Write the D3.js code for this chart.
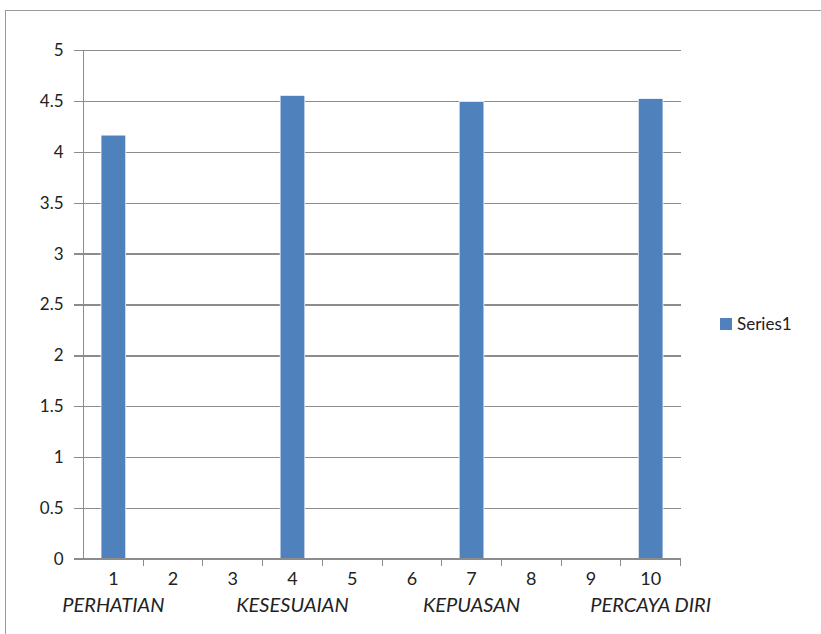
<!DOCTYPE html>
<html>
<head>
<meta charset="utf-8">
<script src="https://cdn.jsdelivr.net/npm/d3@7"></script>
<style>
  html, body { margin: 0; padding: 0; background: #fff; }
  svg { display: block; }
  text { font-family: Lato, "Open Sans", sans-serif; fill: #222; }
</style>
</head>
<body>
<svg id="chart" width="821" height="634"></svg>
<script>
// Category numbers along the x axis
const categories = ["1", "2", "3", "4", "5", "6", "7", "8", "9", "10"];
// Second-row group names under selected categories
const groupLabels = ["PERHATIAN", "", "", "KESESUAIAN", "", "", "KEPUASAN", "", "", "PERCAYA DIRI"];
// Series1 values (empty categories have no bar)
const series1 = [4.16, null, null, 4.55, null, null, 4.49, null, null, 4.52];
// Value axis ticks
const yTicks = [0, 0.5, 1, 1.5, 2, 2.5, 3, 3.5, 4, 4.5, 5];
const seriesName = "Series1";

const svg = d3.select("#chart");
const barColor = "#4f81bd";
const gridColor = "#8c8c8c";

// outer chart frame
svg.append("rect")
  .attr("x", 5.5).attr("y", 10.5)
  .attr("width", 900).attr("height", 700)
  .attr("fill", "none").attr("stroke", "#9a9a9a").attr("stroke-width", 1);

const plot = { left: 83.5, right: 680.5, top: 50, bottom: 559 };

const x = d3.scaleBand()
  .domain(categories)
  .range([plot.left, plot.right])
  .paddingInner(0).paddingOuter(0);

const y = d3.scaleLinear()
  .domain([0, 5])
  .range([plot.bottom, plot.top]);

// horizontal gridlines with tick labels
const yAxis = d3.axisLeft(y)
  .tickValues(yTicks)
  .tickSize(-(plot.right - plot.left))
  .tickSizeOuter(0)
  .tickPadding(20)
  .tickFormat(d3.format("~g"));

const gy = svg.append("g")
  .attr("transform", `translate(${plot.left},0)`)
  .call(yAxis);
gy.select(".domain").remove();
gy.selectAll(".tick line")
  .attr("x1", -10)
  .attr("stroke", gridColor).attr("stroke-width", 1.3)
  .attr("shape-rendering", "crispEdges");
gy.selectAll(".tick text")
  .attr("font-size", 17)
  .attr("fill", "#222");

// vertical value axis line
svg.append("line")
  .attr("x1", plot.left).attr("x2", plot.left)
  .attr("y1", plot.top).attr("y2", plot.bottom)
  .attr("stroke", gridColor).attr("stroke-width", 1)
  .attr("shape-rendering", "crispEdges");

// bars: 40% of each category slot
const barW = x.bandwidth() * 0.4;
const data = categories.map((c, i) => ({ c, v: series1[i] })).filter(d => d.v != null);
svg.append("g")
  .selectAll("rect")
  .data(data)
  .join("rect")
  .attr("x", d => x(d.c) + (x.bandwidth() - barW) / 2)
  .attr("y", d => y(d.v))
  .attr("width", barW)
  .attr("height", d => y(0) - y(d.v))
  .attr("fill", barColor)
  .attr("stroke", "#fff").attr("stroke-width", 1.5)
  .attr("paint-order", "stroke");

// category axis line
svg.append("line")
  .attr("x1", plot.left - 10).attr("x2", plot.right)
  .attr("y1", y(0)).attr("y2", y(0))
  .attr("stroke", gridColor).attr("stroke-width", 1.3)
  .attr("shape-rendering", "crispEdges");

const xAxis = d3.axisBottom(x).tickSize(0).tickPadding(13);
const gx = svg.append("g")
  .attr("transform", `translate(0,${y(0)})`)
  .call(xAxis);
gx.select(".domain").remove();
gx.selectAll(".tick text").attr("font-size", 18).attr("fill", "#222");

// tick marks at slot boundaries
const bounds = categories.map(c => x(c)).concat([x.range()[1]]);
svg.append("g")
  .selectAll("line")
  .data(bounds.slice(1))
  .join("line")
  .attr("x1", d => d).attr("x2", d => d)
  .attr("y1", y(0)).attr("y2", y(0) + 7)
  .attr("stroke", gridColor).attr("stroke-width", 1)
  .attr("shape-rendering", "crispEdges");

// group names beneath the numbers
svg.append("g")
  .selectAll("text")
  .data(categories.map((c, i) => ({ c, g: groupLabels[i] })).filter(d => d.g))
  .join("text")
  .attr("x", d => x(d.c) + x.bandwidth() / 2)
  .attr("y", y(0) + 53)
  .attr("text-anchor", "middle")
  .attr("font-size", 20)
  .attr("font-style", "italic")
  .text(d => d.g);

// legend
const lg = svg.append("g").attr("transform", "translate(720,318)");
lg.append("rect").attr("width", 12).attr("height", 12).attr("fill", barColor);
lg.append("text").attr("x", 17).attr("y", 11.5).attr("font-size", 17).text(seriesName);
</script>
</body>
</html>
